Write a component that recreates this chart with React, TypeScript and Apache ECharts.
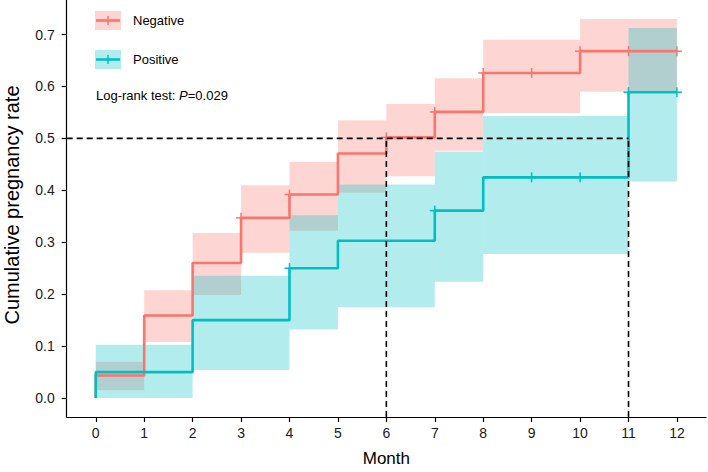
import React, { useEffect, useRef } from "react";
import * as echarts from "echarts";

// ---- data ----
const monthTicks = [0, 1, 2, 3, 4, 5, 6, 7, 8, 9, 10, 11, 12];
const rateTicks = [0, 0.1, 0.2, 0.3, 0.4, 0.5, 0.6, 0.7];

// step curves [month, cumulative rate]
const negativeSteps = [
  [0, 0], [0, 0.0435], [1, 0.159], [2, 0.26], [3, 0.347], [4, 0.392],
  [5, 0.471], [6, 0.502], [7, 0.551], [8, 0.626], [10, 0.668], [12, 0.668],
];
const positiveSteps = [
  [0, 0], [0, 0.05], [2, 0.15], [4, 0.25], [5, 0.303], [7, 0.361],
  [8, 0.425], [11, 0.589], [12, 0.589],
];

// confidence bands [start, end, lower, upper]
const negativeBands = [
  [0, 1, 0.015, 0.07], [1, 2, 0.108, 0.2075], [2, 3, 0.1985, 0.318],
  [3, 4, 0.28, 0.41], [4, 5, 0.322, 0.455], [5, 6, 0.396, 0.535],
  [6, 7, 0.427, 0.566], [7, 8, 0.476, 0.616], [8, 10, 0.549, 0.69],
  [10, 12, 0.59, 0.73],
];
const positiveBands = [
  [0, 2, 0, 0.1025], [2, 4, 0.054, 0.2355], [4, 5, 0.132, 0.352],
  [5, 7, 0.175, 0.411], [7, 8, 0.224, 0.475], [8, 11, 0.2775, 0.543],
  [11, 12, 0.417, 0.7125],
];

// censoring marks [month, rate]
const negativeCensor = [
  [3, 0.347], [4, 0.392], [6, 0.502], [7, 0.551], [8, 0.626],
  [9, 0.626], [10, 0.668], [11, 0.668], [12, 0.668],
];
const positiveCensor = [
  [4, 0.25], [7, 0.361], [9, 0.425], [10, 0.425], [11, 0.589], [12, 0.589],
];

const medianRate = 0.5;
const medianMonths = [6, 11];

const xMin = -0.6;
const xMax = 12.6;
const yMin = -0.0365;
const yMax = 0.7665;

const RED = "#F8766D";
const CYAN = "#00BFC4";
const RED_FILL = "rgba(248,118,109,0.3)";
const CYAN_FILL = "rgba(0,191,196,0.3)";
const FONT = "'Liberation Sans', Arial, sans-serif";

function bandSeries(name: string, data: number[][], fill: string) {
  return {
    type: "custom",
    name,
    data,
    encode: { x: [0, 1], y: [2, 3] },
    renderItem: (_p: any, api: any) => {
      const a = api.coord([api.value(0), api.value(3)]);
      const b = api.coord([api.value(1), api.value(2)]);
      return {
        type: "rect",
        shape: { x: a[0], y: a[1], width: b[0] - a[0], height: b[1] - a[1] },
        style: { fill },
      };
    },
    silent: true,
  };
}

function censorSeries(name: string, data: number[][], color: string) {
  return {
    type: "custom",
    name,
    data,
    encode: { x: 0, y: 1 },
    renderItem: (_p: any, api: any) => {
      const c = api.coord([api.value(0), api.value(1)]);
      const h = 5;
      const style = { stroke: color, lineWidth: 1.5, fill: "none" };
      return {
        type: "group",
        children: [
          { type: "line", shape: { x1: c[0], y1: c[1] - h, x2: c[0], y2: c[1] + h }, style },
          { type: "line", shape: { x1: c[0] - h, y1: c[1], x2: c[0] + h, y2: c[1] }, style },
        ],
      };
    },
    silent: true,
  };
}

function lineSeries(name: string, data: number[][], color: string) {
  return {
    type: "line",
    name,
    data,
    step: "end",
    symbol: "none",
    lineStyle: { color, width: 2.6 },
    silent: true,
  };
}

export default function App() {
  const ref = useRef<HTMLDivElement>(null);

  useEffect(() => {
    document.body.style.margin = "0";
    if (!ref.current) return;
    const chart = echarts.init(ref.current, undefined, { renderer: "svg" });

    const dashStyle = { color: "#000", width: 1.6, type: [6, 4] as any };
    const dashed = [
      {
        type: "line",
        name: "median-h",
        data: [[xMin, medianRate], [medianMonths[medianMonths.length - 1], medianRate]],
        symbol: "none",
        lineStyle: dashStyle,
        silent: true,
        z: 10,
      },
      ...medianMonths.map((m) => ({
        type: "line",
        name: "median-v-" + m,
        data: [[m, yMin], [m, medianRate]],
        symbol: "none",
        lineStyle: dashStyle,
        silent: true,
        z: 10,
      })),
    ];

    const legendY = [20.5, 59.5];
    const legendItems = [
      { label: "Negative", color: RED, fill: RED_FILL },
      { label: "Positive", color: CYAN, fill: CYAN_FILL },
    ];
    const legendGraphics: any[] = [];
    legendItems.forEach((it, i) => {
      const cy = legendY[i];
      legendGraphics.push(
        { type: "rect", shape: { x: 95, y: cy - 9.5, width: 26, height: 19 }, style: { fill: it.fill } },
        { type: "line", shape: { x1: 96, y1: cy, x2: 120, y2: cy }, style: { stroke: it.color, lineWidth: 2.6 } },
        { type: "line", shape: { x1: 108, y1: cy - 4.5, x2: 108, y2: cy + 4.5 }, style: { stroke: it.color, lineWidth: 1.5 } },
        {
          type: "text",
          x: 133,
          y: cy,
          style: { text: it.label, fontSize: 13, fontFamily: FONT, fill: "#000", align: "left", verticalAlign: "middle" },
        }
      );
    });

    chart.setOption({
      animation: false,
      backgroundColor: "#fff",
      grid: { left: 66.7, right: 2, top: 0, bottom: 50, containLabel: false },
      xAxis: {
        type: "value",
        min: xMin,
        max: xMax,
        name: "Month",
        nameLocation: "middle",
        nameGap: 33,
        nameTextStyle: { fontSize: 17, fontFamily: FONT, color: "#000" },
        axisLine: { show: true, onZero: false, lineStyle: { color: "#000", width: 1.2 } },
        axisTick: { show: true, length: 5, customValues: monthTicks, lineStyle: { color: "#000", width: 1.2 } },
        axisLabel: {
          customValues: monthTicks,
          fontSize: 14,
          fontFamily: FONT,
          color: "#1a1a1a",
          margin: 9,
        },
        splitLine: { show: false },
      },
      yAxis: {
        type: "value",
        min: yMin,
        max: yMax,
        axisLine: { show: true, onZero: false, lineStyle: { color: "#000", width: 1.2 } },
        axisTick: { show: true, length: 5, customValues: rateTicks, lineStyle: { color: "#000", width: 1.2 } },
        axisLabel: {
          customValues: rateTicks,
          fontSize: 14,
          fontFamily: FONT,
          color: "#1a1a1a",
          margin: 12,
          formatter: (v: number) => v.toFixed(1),
        },
        splitLine: { show: false },
      },
      graphic: [
        {
          type: "text",
          x: 12,
          y: 205,
          rotation: Math.PI / 2,
          style: {
            text: "Cumulative pregnancy rate",
            fontSize: 20,
            fontFamily: FONT,
            fill: "#000",
            align: "center",
            verticalAlign: "middle",
          },
        },
        ...legendGraphics,
        {
          type: "text",
          x: 96,
          y: 95,
          style: {
            text: "{a|Log-rank test: }{i|P}{a|=0.029}",
            fontSize: 13,
            fontFamily: FONT,
            verticalAlign: "middle",
            align: "left",
            rich: {
              a: { fontSize: 13, fontFamily: FONT, fill: "#000" },
              i: { fontSize: 13, fontFamily: FONT, fontStyle: "italic", fill: "#000" },
            },
          },
        },
      ],
      series: [
        bandSeries("Negative CI", negativeBands, RED_FILL),
        lineSeries("Negative", negativeSteps, RED),
        censorSeries("Negative censor", negativeCensor, RED),
        bandSeries("Positive CI", positiveBands, CYAN_FILL),
        lineSeries("Positive", positiveSteps, CYAN),
        censorSeries("Positive censor", positiveCensor, CYAN),
        ...dashed,
      ],
    });

    return () => chart.dispose();
  }, []);

  return <div ref={ref} style={{ width: 708, height: 472 }} />;
}
